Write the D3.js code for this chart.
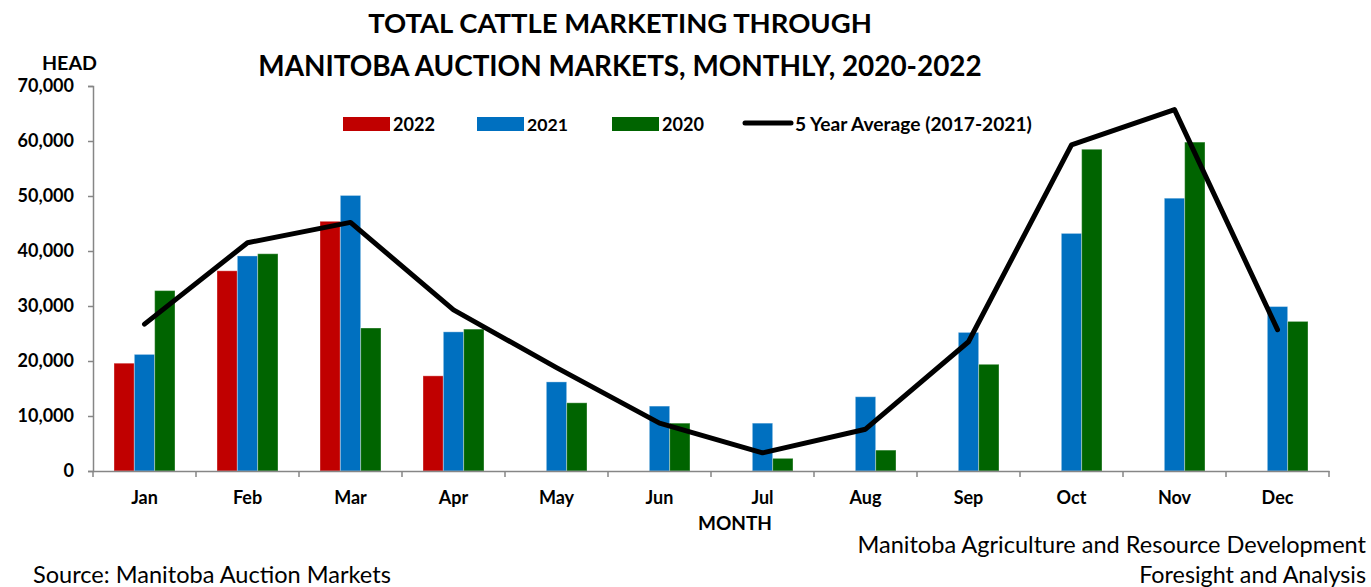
<!DOCTYPE html>
<html>
<head>
<meta charset="utf-8">
<script src="https://cdn.jsdelivr.net/npm/d3@7"></script>
<style>
  body { margin: 0; background: #fff; }
  svg { display: block; font-family: Lato, "Open Sans", sans-serif; }
</style>
</head>
<body>
<div id="chart"></div>
<script>
// Monthly head counts
const months = ["Jan", "Feb", "Mar", "Apr", "May", "Jun", "Jul", "Aug", "Sep", "Oct", "Nov", "Dec"];
const series2022 = [19600, 36400, 45400, 17300, null, null, null, null, null, null, null, null];
const series2021 = [21200, 39100, 50100, 25300, 16200, 11800, 8700, 13500, 25200, 43200, 49600, 29900];
const series2020 = [32800, 39500, 26000, 25800, 12400, 8700, 2300, 3800, 19400, 58500, 59800, 27200];
const fiveYearAvg = [26700, 41500, 45200, 29300, 18800, 8700, 3300, 7600, 23500, 59300, 65700, 25700];
const yTicks = [0, 10000, 20000, 30000, 40000, 50000, 60000, 70000];

const seriesKeys = ["2022", "2021", "2020"];
const seriesValues = { "2022": series2022, "2021": series2021, "2020": series2020 };
const colors = { "2022": "#C00000", "2021": "#0070C0", "2020": "#006400" };

const W = 1371, H = 587;
const svg = d3.select("#chart").append("svg")
    .attr("width", W)
    .attr("height", H);

// fit a text node to a target pixel width by adjusting its font size
function fit(sel, target) {
    sel.each(function(d) {
        const t = d3.select(this);
        const size = parseFloat(t.style("font-size"));
        const w = this.getComputedTextLength();
        const goal = typeof target === "function" ? target(d) : target;
        t.style("font-size", (size * goal / w) + "px");
    });
    return sel;
}

const plot = { left: 93, right: 1329, top: 86, bottom: 471 };

const x0 = d3.scaleBand()
    .domain(months)
    .range([plot.left, plot.right]);

const x1 = d3.scaleBand()
    .domain(seriesKeys)
    .range([21, 82]);

const y = d3.scaleLinear()
    .domain([0, 70000])
    .range([plot.bottom, plot.top]);

// Title
svg.append("text")
    .attr("x", 620).attr("y", 33)
    .attr("text-anchor", "middle")
    .style("font-weight", "bold").style("font-size", "26px")
    .text("TOTAL CATTLE MARKETING THROUGH")
    .call(fit, 504);
svg.append("text")
    .attr("x", 620).attr("y", 76)
    .attr("text-anchor", "middle")
    .style("font-weight", "bold").style("font-size", "26px")
    .text("MANITOBA AUCTION MARKETS, MONTHLY, 2020-2022")
    .call(fit, 724);

// Y axis
const yAxis = svg.append("g")
    .attr("transform", `translate(${plot.left},0)`)
    .call(d3.axisLeft(y).tickValues(yTicks).tickSize(5).tickPadding(14).tickFormat(d3.format(",")));
yAxis.select(".domain").attr("stroke", "#868686").attr("stroke-width", 1.5);
yAxis.selectAll(".tick line").attr("stroke", "#868686").attr("stroke-width", 1.5);
yAxis.selectAll(".tick text")
    .style("font-family", "Lato, sans-serif")
    .style("font-weight", "bold").style("font-size", "18px").attr("fill", "#000");

svg.append("text")
    .attr("x", 42).attr("y", 70)
    .style("font-weight", "bold").style("font-size", "17px")
    .text("HEAD")
    .call(fit, 55);

// Bars
const groups = svg.append("g").selectAll("g")
    .data(months)
    .join("g")
    .attr("transform", m => `translate(${x0(m)},0)`);

groups.selectAll("rect")
    .data((m, i) => seriesKeys.map(k => ({ key: k, value: seriesValues[k][i] })).filter(d => d.value != null))
    .join("rect")
    .attr("x", d => x1(d.key))
    .attr("y", d => y(d.value))
    .attr("width", x1.bandwidth())
    .attr("height", d => y(0) - y(d.value))
    .attr("fill", d => colors[d.key])
    .attr("stroke", "rgba(255,255,255,0.35)")
    .attr("stroke-width", 1);

// X axis
const xAxis = svg.append("g")
    .attr("transform", `translate(0,${plot.bottom})`)
    .call(d3.axisBottom(x0).tickSize(0).tickPadding(20));
xAxis.select(".domain").attr("stroke", "#868686").attr("stroke-width", 1.5);
xAxis.selectAll(".tick text")
    .style("font-family", "Lato, sans-serif")
    .style("font-weight", "bold").style("font-size", "18px").attr("fill", "#000");
const boundaries = months.map(m => x0(m)).concat([x0.range()[1]]);
svg.append("g").selectAll("line")
    .data(boundaries)
    .join("line")
    .attr("x1", d => d).attr("x2", d => d)
    .attr("y1", plot.bottom).attr("y2", plot.bottom + 6)
    .attr("stroke", "#868686").attr("stroke-width", 1.5);

svg.append("text")
    .attr("x", 735).attr("y", 530)
    .attr("text-anchor", "middle")
    .style("font-weight", "bold").style("font-size", "18px")
    .text("MONTH")
    .call(fit, 74);

// 5 year average line
const line = d3.line()
    .x((d, i) => x0(months[i]) + x0.bandwidth() / 2)
    .y(d => y(d));
svg.append("path")
    .datum(fiveYearAvg)
    .attr("d", line)
    .attr("fill", "none")
    .attr("stroke", "#000")
    .attr("stroke-width", 5)
    .attr("stroke-linecap", "round")
    .attr("stroke-linejoin", "round");

// Legend
const legendItems = [
    { label: "2022", x: 343, type: "bar", color: colors["2022"], w: 42 },
    { label: "2021", x: 477, type: "bar", color: colors["2021"], w: 41 },
    { label: "2020", x: 612, type: "bar", color: colors["2020"], w: 42 },
    { label: "5 Year Average (2017-2021)", x: 743, type: "line", color: "#000", w: 237 }
];
const legend = svg.append("g").selectAll("g")
    .data(legendItems)
    .join("g")
    .attr("transform", d => `translate(${d.x},124)`);
legend.filter(d => d.type === "bar").append("rect")
    .attr("x", 0).attr("y", -7).attr("width", 47).attr("height", 14)
    .attr("fill", d => d.color);
legend.filter(d => d.type === "line").append("line")
    .attr("x1", 2).attr("x2", 48).attr("y1", -1).attr("y2", -1)
    .attr("stroke", "#000").attr("stroke-width", 5).attr("stroke-linecap", "round");
legend.append("text")
    .attr("x", d => d.type === "bar" ? 50 : 52).attr("y", 7)
    .style("font-weight", "bold").style("font-size", "19px")
    .text(d => d.label)
    .call(fit, d => d.w);

// Footer
svg.append("text")
    .attr("x", 1366).attr("y", 553)
    .attr("text-anchor", "end")
    .style("font-size", "20px")
    .text("Manitoba Agriculture and Resource Development")
    .call(fit, 509);
svg.append("text")
    .attr("x", 1366).attr("y", 583)
    .attr("text-anchor", "end")
    .style("font-size", "20px")
    .text("Foresight and Analysis")
    .call(fit, 227);
svg.append("text")
    .attr("x", 33).attr("y", 583)
    .style("font-size", "20px")
    .text("Source: Manitoba Auction Markets")
    .call(fit, 358);
</script>
</body>
</html>
